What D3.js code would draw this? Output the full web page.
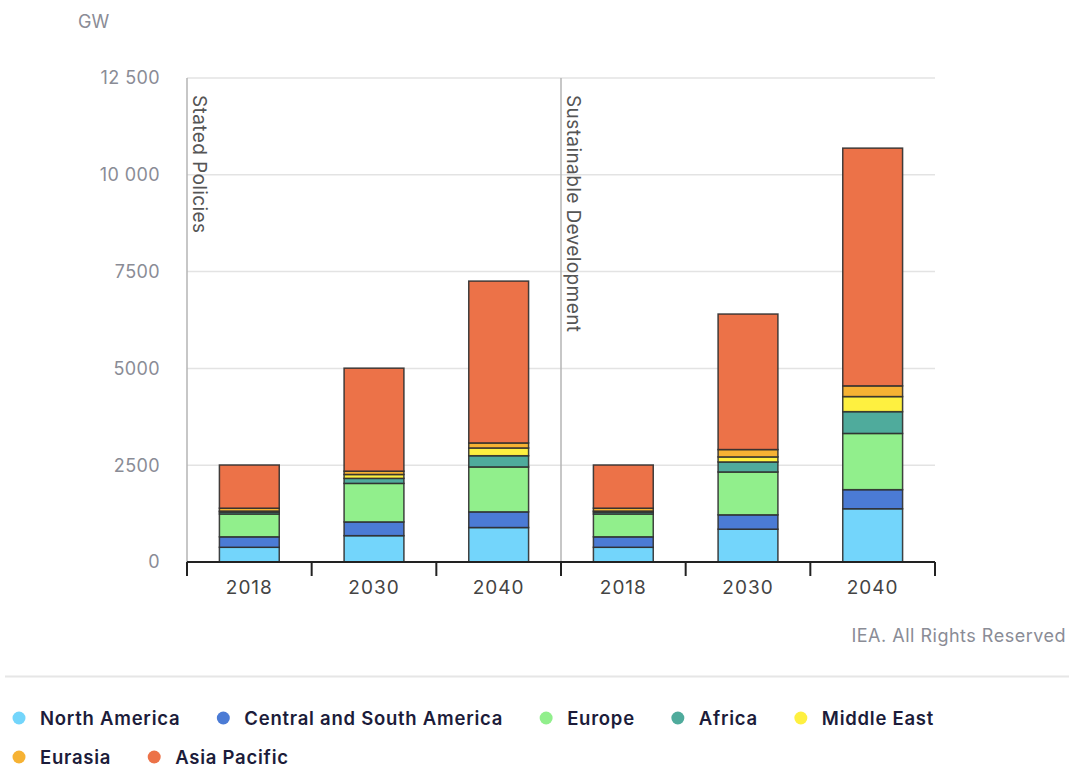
<!DOCTYPE html>
<html lang="en">
<head>
    <meta charset="UTF-8">
    <title>Renewable capacity by region</title>
    <style>
        body { margin: 0; background: #fff; }
        text { font-family: Inter, "Noto Sans", sans-serif; }
    </style>
</head>
<body>
<script src="https://d3js.org/d3.v7.min.js"></script>
<script>
    // regions, bottom to top of each stack
    const regions = ["North America", "Central and South America", "Europe", "Africa", "Middle East", "Eurasia", "Asia Pacific"];
    const regionColors = ["#73d5fb", "#4b7bd5", "#91ef8c", "#4fab9c", "#fef040", "#f6b233", "#ec7248"];

    const scenarios = ["Stated Policies", "Sustainable Development"];
    const years = ["2018", "2030", "2040"];

    // GW, one array per bar, in the order of regions
    const sp2018 = [380, 270, 590, 50, 25, 75, 1115];
    const sp2030 = [680, 355, 995, 130, 100, 86, 2660];
    const sp2040 = [890, 405, 1160, 290, 200, 130, 4180];
    const sd2018 = [380, 270, 590, 50, 25, 75, 1115];
    const sd2030 = [848, 370, 1107, 259, 130, 190, 3500];
    const sd2040 = [1375, 493, 1452, 563, 389, 277, 6140];

    const yTicks = [0, 2500, 5000, 7500, 10000, 12500];
    const yTickLabels = ["0", "2500", "5000", "7500", "10 000", "12 500"];

    const bars = [
        {key: "SP-2018", scenario: 0, year: years[0], values: sp2018},
        {key: "SP-2030", scenario: 0, year: years[1], values: sp2030},
        {key: "SP-2040", scenario: 0, year: years[2], values: sp2040},
        {key: "SD-2018", scenario: 1, year: years[0], values: sd2018},
        {key: "SD-2030", scenario: 1, year: years[1], values: sd2030},
        {key: "SD-2040", scenario: 1, year: years[2], values: sd2040}
    ];

    const W = 1069, H = 767;
    const plotL = 187, plotR = 935, plotT = 78, plotB = 562;

    const svg = d3.select("body").append("svg")
        .attr("width", W)
        .attr("height", H);

    const x = d3.scaleBand()
        .domain(bars.map(d => d.key))
        .range([plotL, plotR])
        .paddingInner(0.52)
        .paddingOuter(0.26);

    const y = d3.scaleLinear()
        .domain([0, 12500])
        .range([plotB, plotT]);

    const step = x.step();
    const gap = (step - x.bandwidth()) / 2;
    const boundary = k => x(k) - gap;

    // gridlines
    svg.append("g")
        .selectAll("line")
        .data(yTicks.slice(1))
        .enter().append("line")
        .attr("x1", plotL)
        .attr("x2", plotR)
        .attr("y1", d => y(d))
        .attr("y2", d => y(d))
        .attr("stroke", "#e3e3e3")
        .attr("stroke-width", 1.5);

    // y labels
    svg.append("g")
        .selectAll("text")
        .data(yTicks)
        .enter().append("text")
        .attr("x", 160)
        .attr("y", d => y(d))
        .attr("dy", "0.36em")
        .attr("text-anchor", "end")
        .attr("font-size", 18)
        .attr("letter-spacing", 0.4)
        .attr("fill", "#8a8c96")
        .text((d, i) => yTickLabels[i]);

    svg.append("text")
        .attr("x", 78)
        .attr("y", 22)
        .attr("dy", "0.36em")
        .attr("font-size", 18)
        .attr("fill", "#8a8c96")
        .text("GW");

    // scenario separators and labels
    const firstOf = [bars[0].key, bars[3].key];
    svg.append("g")
        .selectAll("line")
        .data(firstOf)
        .enter().append("line")
        .attr("x1", d => boundary(d))
        .attr("x2", d => boundary(d))
        .attr("y1", plotT)
        .attr("y2", plotB)
        .attr("stroke", "#b5b5b5")
        .attr("stroke-width", 1.5);

    svg.append("g")
        .selectAll("text")
        .data(firstOf)
        .enter().append("text")
        .attr("transform", d => `translate(${boundary(d) + 6},95) rotate(90)`)
        .attr("font-size", 19)
        .attr("letter-spacing", 0.4)
        .attr("fill", "#555")
        .text((d, i) => scenarios[i]);

    // stacked bars
    const stack = d3.stack()
        .keys(d3.range(regions.length))
        .value((d, k) => d.values[k]);
    const series = stack(bars);

    svg.append("g")
        .selectAll("g")
        .data(series)
        .enter().append("g")
        .attr("fill", d => regionColors[d.key])
        .selectAll("rect")
        .data(d => d)
        .enter().append("rect")
        .attr("x", d => x(d.data.key))
        .attr("width", x.bandwidth())
        .attr("y", d => y(d[1]))
        .attr("height", d => y(d[0]) - y(d[1]))
        .attr("stroke", "#2f2f2f")
        .attr("stroke-opacity", 0.9)
        .attr("stroke-width", 1.5);

    // x axis
    const xa = svg.append("g");
    xa.append("line")
        .attr("x1", plotL)
        .attr("x2", plotR)
        .attr("y1", plotB)
        .attr("y2", plotB)
        .attr("stroke", "#222")
        .attr("stroke-width", 2);

    const edges = bars.map(d => boundary(d.key)).concat([boundary(bars[bars.length - 1].key) + step]);
    xa.selectAll(".tick")
        .data(edges)
        .enter().append("line")
        .attr("class", "tick")
        .attr("x1", d => d)
        .attr("x2", d => d)
        .attr("y1", plotB)
        .attr("y2", plotB + 14)
        .attr("stroke", "#222")
        .attr("stroke-width", 2);

    xa.selectAll("text")
        .data(bars)
        .enter().append("text")
        .attr("x", d => x(d.key) + x.bandwidth() / 2)
        .attr("y", 587)
        .attr("dy", "0.36em")
        .attr("text-anchor", "middle")
        .attr("font-size", 19)
        .attr("letter-spacing", 1)
        .attr("fill", "#444")
        .text(d => d.year);

    svg.append("text")
        .attr("x", 1066)
        .attr("y", 636)
        .attr("dy", "0.36em")
        .attr("text-anchor", "end")
        .attr("font-size", 18)
        .attr("letter-spacing", 0.5)
        .attr("fill", "#8a8c96")
        .text("IEA. All Rights Reserved");

    svg.append("line")
        .attr("x1", 5)
        .attr("x2", W)
        .attr("y1", 676.5)
        .attr("y2", 676.5)
        .attr("stroke", "#e6e6e6")
        .attr("stroke-width", 2);

    // legend: five items on the first row, the rest below
    const legend = svg.append("g");
    let lx = 19, ly = 718;
    regions.forEach((r, i) => {
        if (i === 5) {
            lx = 19;
            ly += 39;
        }
        const item = legend.append("g")
            .attr("transform", `translate(${lx},${ly})`);
        item.append("circle")
            .attr("r", 6.5)
            .attr("fill", regionColors[i]);
        const t = item.append("text")
            .attr("x", 21)
            .attr("dy", "0.36em")
            .attr("font-size", 18.5)
            .attr("font-weight", 600)
            .attr("letter-spacing", 0.75)
            .attr("fill", "#1c1c3a")
            .text(r);
        lx += 21 + t.node().getComputedTextLength() + 43;
    });
</script>
</body>
</html>
